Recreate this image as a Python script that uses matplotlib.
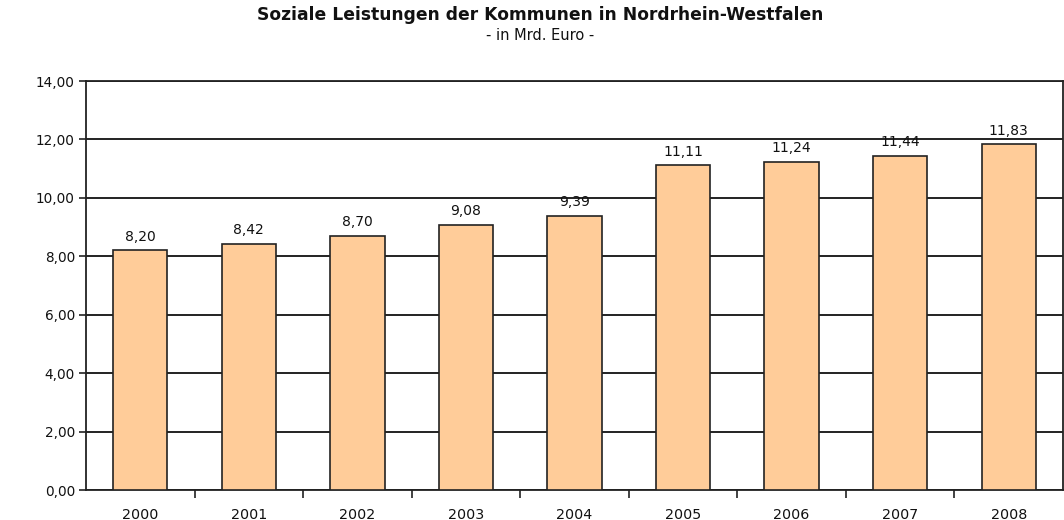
import matplotlib
matplotlib.use("Agg")
import matplotlib.pyplot as plt
import numpy as np

years = ["2000", "2001", "2002", "2003", "2004", "2005", "2006", "2007", "2008"]
values = [8.20, 8.42, 8.70, 9.08, 9.39, 11.11, 11.24, 11.44, 11.83]
yticks = [0, 2, 4, 6, 8, 10, 12, 14]

plt.rcParams['font.family'] = ['DejaVu Sans']

fig = plt.figure(figsize=(10.64, 5.2), dpi=100)
ax = fig.add_axes([86/1064, 1-490/520, (1063-86)/1064, (490-81)/520])

x = np.arange(len(years))
ax.bar(x, values, width=0.5, color="#FFCC99", edgecolor="#222222", linewidth=1.2, zorder=3)
ax.set_xlim(-0.5, len(years) - 0.5)
ax.set_ylim(0, 14)
ax.set_yticks(yticks)
ax.set_yticklabels([f"{v:.2f}".replace(".", ",") for v in yticks], fontsize=9.8, color="#111111")
ax.yaxis.grid(True, color="#111111", linewidth=1.3, zorder=0)
ax.set_axisbelow(True)

ax.set_xticks(x)
ax.set_xticklabels(years, fontsize=10.3, color="#111111")
ax.tick_params(axis='x', length=0, pad=13)
ax.set_xticks(np.arange(0.5, len(years) - 0.5, 1), minor=True)
ax.tick_params(axis='x', which='minor', length=6, width=1.2, direction='out', color="#222222")
ax.tick_params(axis='y', length=5, width=1.2, direction='out', color="#222222", pad=3)

for s in ax.spines.values():
    s.set_color("#222222")
    s.set_linewidth(1.3)

for xi, v in zip(x, values):
    ax.annotate(f"{v:.2f}".replace(".", ","), xy=(xi, v), xytext=(0, 7), textcoords="offset points",
                ha="center", va="baseline", fontsize=10, color="#111111", zorder=4)

fig.text(0.508, 1 - 15/520, "Soziale Leistungen der Kommunen in Nordrhein-Westfalen", ha="center", va="center",
         fontsize=12.3, fontweight="bold", color="#111111")
fig.text(0.508, 1 - 36/520, "- in Mrd. Euro -", ha="center", va="center", fontsize=10.5, color="#111111")

fig.savefig("out.png", dpi=100)
